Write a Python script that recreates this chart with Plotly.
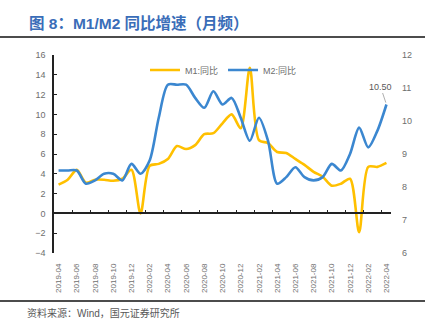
import plotly.graph_objects as go

months = ["2019-04","2019-05","2019-06","2019-07","2019-08","2019-09","2019-10","2019-11","2019-12",
          "2020-01","2020-02","2020-03","2020-04","2020-05","2020-06","2020-07","2020-08","2020-09",
          "2020-10","2020-11","2020-12","2021-01","2021-02","2021-03","2021-04","2021-05","2021-06",
          "2021-07","2021-08","2021-09","2021-10","2021-11","2021-12","2022-01","2022-02","2022-03","2022-04"]
m1 = [2.9,3.4,4.4,3.1,3.4,3.4,3.3,3.5,4.4,0.0,4.8,5.0,5.5,6.8,6.5,6.9,8.0,8.1,9.1,10.0,8.6,14.7,
      7.4,7.1,6.2,6.1,5.5,4.9,4.2,3.7,2.8,3.0,3.5,-1.9,4.7,4.7,5.1]
m2 = [8.5,8.5,8.5,8.1,8.2,8.4,8.4,8.2,8.7,8.4,8.8,10.1,11.1,11.1,11.1,10.7,10.4,10.9,10.5,10.7,10.1,
      9.4,10.1,9.4,8.1,8.3,8.6,8.3,8.2,8.3,8.7,8.5,9.0,9.8,9.2,9.7,10.5]
left_ticks = list(range(-4, 17, 2))
right_ticks = list(range(6, 13, 1))

W, H = 438, 325
L, R, T, B = 54, 47, 55, 72
pw, ph = W - L - R, H - T - B

idx = list(range(len(months)))
font = "Liberation Sans, Arial, Noto Sans CJK SC"
gray = "#595959"
lgray = "#6E6E6E"

fig = go.Figure()
fig.add_trace(go.Scatter(x=idx, y=m1, name="M1:同比", mode="lines",
                         line=dict(color="#FFC000", width=2.6, shape="spline", smoothing=0.8),
                         yaxis="y"))
fig.add_trace(go.Scatter(x=idx, y=m2, name="M2:同比", mode="lines",
                         line=dict(color="#3B87D0", width=2.6, shape="spline", smoothing=0.8),
                         yaxis="y2"))
# dummy trace for tick axis
fig.add_trace(go.Scatter(x=[idx[0]], y=[0], xaxis="x2", yaxis="y", mode="markers",
                         marker=dict(opacity=0), showlegend=False, hoverinfo="skip"))

xr = [-0.5, len(months) - 0.5]
zero_pos = (0 - left_ticks[0]) / (left_ticks[-1] - left_ticks[0])

fig.update_layout(
    width=W, height=H, margin=dict(l=L, r=R, t=T, b=B),
    paper_bgcolor="white", plot_bgcolor="white",
    font=dict(family=font, size=9, color=gray),
    xaxis=dict(range=xr, tickmode="array", tickvals=idx[::2], ticktext=months[::2],
               tickangle=-90, showline=False, showgrid=False, zeroline=False, ticks="",
               tickfont=dict(size=8, color=lgray), ticklabelstandoff=8),
    xaxis2=dict(range=xr, overlaying="x", anchor="free", position=zero_pos, side="bottom",
                tickmode="array", tickvals=[i + 0.5 for i in idx[1:-1:2]], showticklabels=False,
                ticks="inside", ticklen=3, tickcolor="#222", tickwidth=1.2,
                showline=True, linecolor="#222", linewidth=1.5, showgrid=False, zeroline=False),
    yaxis=dict(range=[left_ticks[0], left_ticks[-1]], tickvals=left_ticks, showgrid=False,
               zeroline=False, showline=True, linecolor="#222", linewidth=1.5,
               ticks="inside", ticklen=3, tickcolor="#222", tickwidth=1.2,
               tickfont=dict(size=9, color=lgray), ticklabelstandoff=5),
    yaxis2=dict(range=[right_ticks[0], right_ticks[-1]], tickvals=right_ticks, overlaying="y",
                side="right", showgrid=False, zeroline=False, showline=False, ticks="",
                tickfont=dict(size=9, color=lgray), ticklabelstandoff=10),
    legend=dict(orientation="h", x=(145 - L) / pw, y=(H - B - 70) / ph, xanchor="left",
                yanchor="middle", font=dict(size=9, color=lgray), bgcolor="rgba(0,0,0,0)",
                itemwidth=30, tracegroupgap=0),
    showlegend=True,
)

fig.add_annotation(x=idx[-1], y=m2[-1], xref="x", yref="y2", text=f"{m2[-1]:.2f}",
                   showarrow=True, arrowhead=0, arrowwidth=0.8, arrowcolor="#999",
                   ax=-6, ay=-18, font=dict(size=9, color=gray), standoff=2)

# title and source
fig.add_annotation(xref="paper", yref="paper", x=(27 - L) / pw, y=(H - B - 23) / ph,
                   xanchor="left", yanchor="middle", showarrow=False,
                   text="<b>图 8：M1/M2 同比增速（月频）</b>",
                   font=dict(size=15.5, color="#3A6DB8", family="Liberation Sans, Noto Sans CJK SC"))
fig.add_annotation(xref="paper", yref="paper", x=(25 - L) / pw, y=(H - B - 313) / ph,
                   xanchor="left", yanchor="middle", showarrow=False,
                   text="资料来源：Wind，国元证券研究所",
                   font=dict(size=10, color=gray, family="Liberation Sans, Noto Sans CJK SC"))
for py in (37, 301):
    fig.add_shape(type="line", xref="paper", yref="paper",
                  x0=(0 - L) / pw, x1=(425 - L) / pw,
                  y0=(H - B - py) / ph, y1=(H - B - py) / ph,
                  line=dict(color="#111", width=1.5))

fig.write_html("out.html")
